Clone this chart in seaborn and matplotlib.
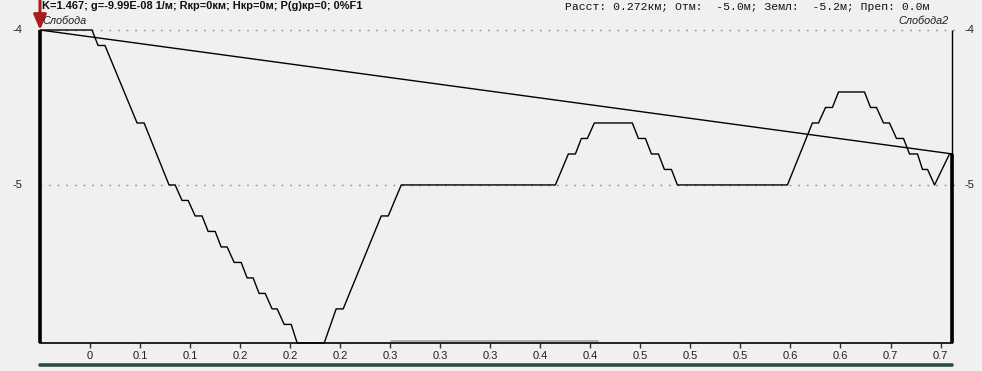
import matplotlib
matplotlib.use('Agg')
import matplotlib.pyplot as plt
import seaborn as sns
import pandas as pd
from matplotlib.lines import Line2D
from matplotlib.transforms import blended_transform_factory

# ---- data ----
dist_km = [0.0, 0.040, 0.0447, 0.050, 0.0747, 0.0801, 0.0993, 0.104, 0.1093, 0.114,
           0.1194, 0.1247, 0.1294, 0.1348, 0.1394, 0.144, 0.1494, 0.1548, 0.1594, 0.164,
           0.1686, 0.1733, 0.1786, 0.1825, 0.1879, 0.1933, 0.1979, 0.2187, 0.2279, 0.2333,
           0.2626, 0.268, 0.278, 0.3966, 0.4066, 0.412, 0.4166, 0.4212, 0.4266, 0.4558,
           0.4605, 0.4659, 0.4705, 0.4759, 0.4805, 0.4859, 0.4905, 0.5752, 0.5944, 0.5991,
           0.6045, 0.6098, 0.6145, 0.6345, 0.6391, 0.6437, 0.6491, 0.6537, 0.6591, 0.6645,
           0.6691, 0.6753, 0.6791, 0.683, 0.6884, 0.6999, 0.7022]
elev_m = [-4.0, -4.0, -4.1, -4.1, -4.6, -4.6, -5.0, -5.0, -5.1, -5.1,
          -5.2, -5.2, -5.3, -5.3, -5.4, -5.4, -5.5, -5.5, -5.6, -5.6,
          -5.7, -5.7, -5.8, -5.8, -5.9, -5.9, -6.02, -6.02, -5.8, -5.8,
          -5.2, -5.2, -5.0, -5.0, -4.8, -4.8, -4.7, -4.7, -4.6, -4.6,
          -4.7, -4.7, -4.8, -4.8, -4.9, -4.9, -5.0, -5.0, -4.6, -4.6,
          -4.5, -4.5, -4.4, -4.4, -4.5, -4.5, -4.6, -4.6, -4.7, -4.7,
          -4.8, -4.8, -4.9, -4.9, -5.0, -4.8, -4.8]
los_km = [0.0, 0.7022]
los_m = [-4.0, -4.8]
mast_km = [0.0, 0.7022]
mast_top_m = [-4.0, -4.8]
site_names = ['Слобода', 'Слобода2']
tick_km = [0.0385, 0.077, 0.1155, 0.154, 0.1925, 0.231, 0.2695, 0.308, 0.3465,
           0.385, 0.4235, 0.462, 0.5005, 0.539, 0.5775, 0.616, 0.6545, 0.693]
tick_labels = ['0', '0.1', '0.1', '0.2', '0.2', '0.2', '0.3', '0.3', '0.3',
               '0.4', '0.4', '0.5', '0.5', '0.5', '0.6', '0.6', '0.7', '0.7']
ytick_m = [-4, -5]
ytick_labels = ['-4', '-5']
cursor_km = [0.270, 0.4297]
header_left = 'K=1.467; g=-9.99E-08 1/м; Rкр=0км; Hкр=0м; P(g)кр=0; 0%F1'
header_right = 'Расст: 0.272км; Отм:  -5.0м; Земл:  -5.2м; Преп: 0.0м'

x_max = 0.7022
y_min, y_max = -6.02, -4.0

bg = '#f0f0f0'
sns.set_theme(style='white')
plt.rcParams['font.family'] = ['Liberation Sans', 'DejaVu Sans']

W, H = 982, 371
fig = plt.figure(figsize=(W / 100, H / 100), dpi=100, facecolor=bg)
ax = fig.add_axes([40 / W, (H - 343) / H, 912.5 / W, 313 / H])
ax.set_facecolor(bg)

prof = pd.DataFrame({'km': dist_km, 'm': elev_m})
los = pd.DataFrame({'km': los_km, 'm': los_m})

sns.lineplot(data=prof, x='km', y='m', ax=ax, color='black', lw=1.0,
             sort=False, estimator=None, clip_on=False)
sns.lineplot(data=los, x='km', y='m', ax=ax, color='black', lw=1.0,
             sort=False, estimator=None)

ax.set_xlim(0, x_max)
ax.set_ylim(y_min, y_max)

# dotted reference lines
for yv in ytick_m:
    ax.axhline(yv, xmin=0, xmax=1.006, color='#8a8a8a', lw=1.0,
               linestyle=(0, (1.2, 5)), clip_on=False, zorder=0)

# y labels on both sides
tr = blended_transform_factory(ax.transAxes, ax.transData)
for yv, lab in zip(ytick_m, ytick_labels):
    ax.text(-18 / 912.5, yv, lab, transform=tr, ha='right', va='center',
            fontsize=8, color='#202020')
    ax.text(1 + 12.5 / 912.5, yv, lab, transform=tr, ha='left', va='center',
            fontsize=8, color='#202020')

# masts
ax.vlines(mast_km[0], y_min, mast_top_m[0], color='black', lw=2.6, clip_on=False, zorder=3)
ax.vlines(mast_km[1], y_min, y_max, color='black', lw=1.0, clip_on=False, zorder=3)
ax.vlines(mast_km[1], y_min, mast_top_m[1], color='black', lw=2.6, clip_on=False, zorder=3)

# cursor highlight at bottom
ax.plot(cursor_km, [y_min + 0.015, y_min + 0.015], color='#a0a0a0', lw=1.2,
        clip_on=False, zorder=1)

# red arrow at start
ax.annotate('', xy=(mast_km[0], mast_top_m[0]), xytext=(0, 22), textcoords='offset points',
            xycoords='data', annotation_clip=False,
            arrowprops=dict(arrowstyle='-|>,head_length=0.75,head_width=0.32',
                            color='#a81e1e', lw=2.2, shrinkA=0, shrinkB=0))

# site names
ax.annotate(site_names[0], xy=(mast_km[0], y_max), xytext=(2, 3), textcoords='offset points',
            ha='left', va='bottom', fontsize=7.8, style='italic', color='#202020',
            annotation_clip=False)
ax.annotate(site_names[1], xy=(mast_km[1], y_max), xytext=(-3, 3), textcoords='offset points',
            ha='right', va='bottom', fontsize=7.8, style='italic', color='#202020',
            annotation_clip=False)

# spines
for s in ['top', 'left', 'right']:
    ax.spines[s].set_visible(False)
ax.spines['bottom'].set_color('black')
ax.spines['bottom'].set_linewidth(1.2)

ax.set_xticks(tick_km)
ax.set_xticklabels(tick_labels, fontsize=8, color='#202020')
ax.tick_params(axis='x', bottom=True, direction='out', length=3.5, width=1, color='#303030', pad=2)
ax.set_yticks([])
ax.set_xlabel('')
ax.set_ylabel('')

# bottom bar
ax.add_line(Line2D([0, 1], [-22 / 313, -22 / 313], transform=ax.transAxes,
                   color='#2e4a47', lw=2.6, clip_on=False))

# header texts
fig.text(42 / W, 1 - 6.0 / H, header_left, ha='left', va='center', fontsize=7.95,
         fontweight='bold', color='#101010')
fig.text(565 / W, 1 - 7.5 / H, header_right, ha='left', va='center', fontsize=8.2,
         family=['Liberation Mono', 'DejaVu Sans Mono'], color='#101010')

fig.savefig('out.png', dpi=100, facecolor=bg)
